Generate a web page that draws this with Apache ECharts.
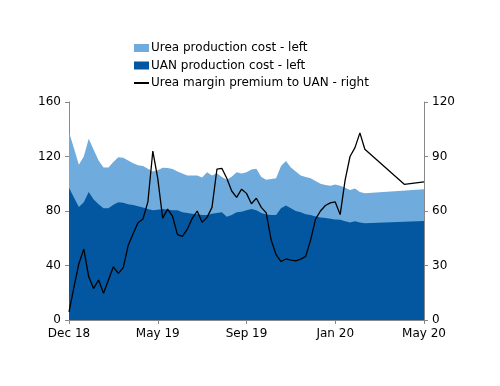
<!DOCTYPE html>
<html><head><meta charset="utf-8">
<script src="https://cdn.jsdelivr.net/npm/echarts@6/dist/echarts.min.js"></script>
<style>html,body{margin:0;padding:0;background:#fff}#c{width:500px;height:386px}</style>
</head><body><div id="c"></div>
<script>
// 73 evenly spaced observations, Dec 18 .. May 20
const tickLabels = ['Dec 18', 'May 19', 'Sep 19', 'Jan 20', 'May 20'];
const labelEvery = 18;
const categories = Array.from({length: 73}, (_, i) => i % labelEvery === 0 ? tickLabels[i / labelEvery] : 'p' + i);

const ureaCost = [138,126,114,120,133,125,117,112,112,116,119.5,119,117,115,113.5,113,111,109,110,111.8,
  111.5,110.8,109,107.5,106,106,106,104.5,108.4,106,107.7,105,103,105.2,108.5,107.5,108.5,110.5,111,105,
  103,103.5,104,113,116.7,112,109,106,105,104,102,100,99,98.6,99.5,98.5,97,95.5,96.5,94,
  93,null,null,null,null,null,null,null,null,null,null,null,96];
const uanCost = [97,90,83,86.5,94,88.5,85,82,82,84.5,86.5,86,85,84.4,83.5,82.5,81.5,80.5,81,81.5,
  81,80.5,80.5,79,78.5,78,77.6,77,77,78,78.5,79,75.8,77,79,79.5,80.5,81.5,80.5,78.5,
  77.5,77,77,82,84,82,80,79,77.6,77,76,75.3,74.8,74.3,73.8,73.5,72.5,71.5,72.5,71.5,
  71,null,null,null,null,null,null,null,null,null,null,null,72.7];
const ureaPremium = [4.5,18,31,39,23.8,17.4,22,14.7,22,29.3,25.7,28.8,41,47.5,53.5,55.6,65,93,78,56,
  61,57,47,46,50,56,60,53.8,56.5,62,83,83.5,78,71,67.5,72,69.7,64,67,62,
  59,44,36,32.2,33.6,33,32.5,33.5,35,44,55.5,60,63,64.5,65,58,77,90,94.9,103,
  94,null,null,null,null,null,null,null,74.7,null,null,null,76];

const names = ['Urea production cost - left', 'UAN production cost - left', 'Urea margin premium to UAN - right'];
const font = 'DejaVu Sans';
const chart = echarts.init(document.getElementById('c'), null, {renderer: 'canvas'});
chart.setOption({
  animation: false,
  textStyle: {fontFamily: font},
  legend: {
    orient: 'vertical', left: 133, top: 42, padding: 0,
    itemWidth: 15, itemHeight: 8, itemGap: 5.5,
    textStyle: {fontFamily: font, fontSize: 12, color: '#000', padding: [0, 0, 0, -3]},
    data: [
      {name: names[0], icon: 'rect'},
      {name: names[1], icon: 'rect'},
      {name: names[2], itemStyle: {color: 'rgba(0,0,0,0)', borderWidth: 0}}
    ]
  },
  grid: {left: 69, right: 76, top: 102, bottom: 66},
  xAxis: {
    type: 'category', data: categories, boundaryGap: false,
    axisLine: {lineStyle: {color: '#888'}},
    axisTick: {interval: labelEvery - 1, length: 4, lineStyle: {color: '#888'}},
    axisLabel: {interval: labelEvery - 1, color: '#000', fontSize: 12, margin: 8, fontFamily: font}
  },
  yAxis: [
    {type: 'value', min: 0, max: 160, interval: 40, splitLine: {show: false},
     axisLine: {show: true, lineStyle: {color: '#888'}},
     axisTick: {show: true, length: 4, lineStyle: {color: '#888'}},
     axisLabel: {color: '#000', fontSize: 12, margin: 8, fontFamily: font}},
    {type: 'value', min: 0, max: 120, interval: 30, splitLine: {show: false},
     axisLine: {show: true, lineStyle: {color: '#888'}},
     axisTick: {show: true, length: 4, lineStyle: {color: '#888'}},
     axisLabel: {color: '#000', fontSize: 12, margin: 8, fontFamily: font}}
  ],
  series: [
    {name: names[0], type: 'line', data: ureaCost, yAxisIndex: 0,
     symbol: 'none', connectNulls: true, lineStyle: {width: 0}, itemStyle: {color: '#6FABDC'},
     areaStyle: {color: '#6FABDC', opacity: 1}, z: 1},
    {name: names[1], type: 'line', data: uanCost, yAxisIndex: 0,
     symbol: 'none', connectNulls: true, lineStyle: {width: 0}, itemStyle: {color: '#0257A0'},
     areaStyle: {color: '#0257A0', opacity: 1}, z: 2},
    {name: names[2], type: 'line', data: ureaPremium, yAxisIndex: 1,
     symbol: 'none', connectNulls: true, lineStyle: {width: 1.3, color: '#000'}, itemStyle: {color: '#000'}, z: 3}
  ]
});
</script></body></html>
